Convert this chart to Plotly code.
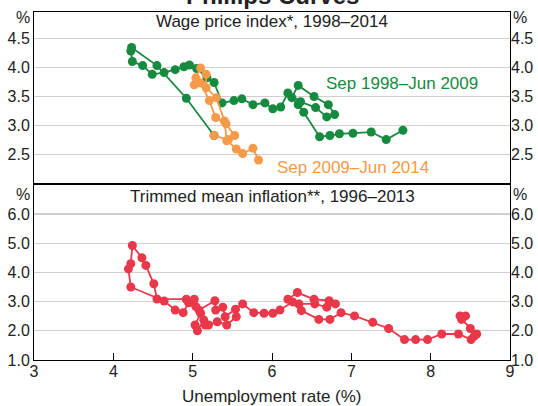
import plotly.graph_objects as go

# ---- Data ----
wpi_early_u = [7.65, 7.44, 7.25, 7.02, 6.85, 6.73, 6.60, 6.40, 6.33, 6.25, 6.33, 6.53, 6.71, 6.79,
               6.69, 6.55, 6.36, 6.20, 6.11, 6.01, 5.91, 5.76, 5.62, 5.52, 5.37, 5.27, 5.18, 5.05,
               4.96, 4.89, 4.78, 4.64, 4.49, 4.37, 4.24, 4.22, 4.23, 4.55, 4.92, 5.27]
wpi_early_w = [2.92, 2.76, 2.89, 2.87, 2.86, 2.83, 2.81, 3.23, 3.36, 3.48, 3.69, 3.50, 3.36, 3.19,
               3.15, 3.31, 3.41, 3.56, 3.32, 3.29, 3.39, 3.36, 3.46, 3.43, 3.39, 3.74, 3.82, 3.98,
               4.04, 4.01, 3.96, 3.91, 3.88, 4.03, 4.10, 4.28, 4.34, 4.03, 3.47, 2.83]

wpi_late_u = [5.27, 5.45, 5.53, 5.42, 5.29, 5.21, 5.10, 5.02, 5.04, 5.10, 5.17, 5.17, 5.30,
              5.40, 5.43, 5.55, 5.63, 5.76, 5.83]
wpi_late_w = [2.83, 2.76, 2.83, 3.03, 3.14, 3.43, 3.73, 3.70, 3.82, 3.99, 3.88, 3.65, 3.48,
              3.08, 2.74, 2.60, 2.52, 2.61, 2.41]

tm_u = [8.37, 8.44, 8.39, 8.50, 8.58, 8.55, 8.51, 8.35, 8.14, 7.96, 7.81, 7.67, 7.47, 7.27,
        7.04, 6.87, 6.73, 6.59, 6.37, 6.20, 6.32, 6.53, 6.72, 6.80, 6.69, 6.54, 6.34, 6.26,
        6.10, 6.01, 5.90, 5.77, 5.63, 5.54, 5.41, 5.38, 5.29, 5.28, 5.08, 5.04, 4.95, 4.88,
        4.78, 4.64, 4.22, 4.19, 4.22, 4.24, 4.36, 4.41, 4.51, 4.55, 4.92, 5.02, 5.10, 5.03,
        5.06, 5.14, 5.16, 5.20, 5.31, 5.43, 5.55]
tm_p = [2.51, 2.51, 2.39, 2.08, 1.89, 1.82, 1.70, 1.89, 1.89, 1.70, 1.70, 1.70, 2.08, 2.29,
        2.51, 2.62, 2.39, 2.39, 2.69, 3.08, 3.31, 3.08, 3.03, 2.92, 2.81, 2.92, 2.92, 2.99,
        2.71, 2.60, 2.60, 2.62, 2.92, 2.74, 2.48, 2.81, 2.71, 3.03, 2.71, 2.83, 2.96, 2.62,
        2.71, 3.02, 3.50, 4.12, 4.30, 4.92, 4.50, 4.24, 3.61, 3.09, 3.08, 3.08, 2.60, 2.20,
        2.00, 2.37, 2.20, 2.20, 2.31, 2.20, 2.48]

x_ticks = [3, 4, 5, 6, 7, 8, 9]
top_ticks = [2.5, 3.0, 3.5, 4.0, 4.5]
bot_ticks = [1.0, 2.0, 3.0, 4.0, 5.0, 6.0]

GREEN = "#168A3E"
ORANGE = "#F59A48"
RED = "#E8384A"
GRID = "#CFCFCF"
FONT = "Liberation Sans, Arial, sans-serif"
TXT = 17
TICK = 16

fig = go.Figure()
fig.add_trace(go.Scatter(x=wpi_early_u, y=wpi_early_w, mode="lines+markers",
                         line=dict(color=GREEN, width=1.8), marker=dict(color=GREEN, size=9),
                         xaxis="x2", yaxis="y", showlegend=False))
fig.add_trace(go.Scatter(x=wpi_late_u, y=wpi_late_w, mode="lines+markers",
                         line=dict(color=ORANGE, width=1.8), marker=dict(color=ORANGE, size=9),
                         xaxis="x2", yaxis="y", showlegend=False))
fig.add_trace(go.Scatter(x=tm_u, y=tm_p, mode="lines+markers",
                         line=dict(color=RED, width=1.8), marker=dict(color=RED, size=9),
                         xaxis="x", yaxis="y2", showlegend=False))
# invisible traces to activate right-hand axes
fig.add_trace(go.Scatter(x=[None], y=[None], xaxis="x2", yaxis="y3", showlegend=False, hoverinfo="skip"))
fig.add_trace(go.Scatter(x=[None], y=[None], xaxis="x", yaxis="y4", showlegend=False, hoverinfo="skip"))

split = 0.506
top_rng = [2.0, 4.95]
bot_rng = [1.0, 7.03]

common_y = dict(showline=True, linecolor="black", linewidth=1, mirror=True,
                gridcolor=GRID, gridwidth=1.3, zeroline=False, ticks="", automargin=False,
                tickfont=dict(size=TICK, color="#222"), tickformat=".1f", fixedrange=True)
right_y = dict(side="right", showgrid=False, zeroline=False, showline=False, tickformat=".1f",
               ticks="", automargin=False,
               tickfont=dict(size=TICK, color="#222"), fixedrange=True)

fig.update_layout(
    width=538, height=406,
    margin=dict(l=34, r=28, t=12, b=46, autoexpand=False),
    showlegend=False,
    paper_bgcolor="white", plot_bgcolor="white",
    font=dict(family=FONT, size=TXT, color="#222"),
    xaxis=dict(domain=[0, 1], anchor="y2", range=[3, 9], tickvals=x_ticks,
               ticks="inside", ticklen=7, tickcolor="black", showline=True,
               linecolor="black", linewidth=1, mirror=True, showgrid=False,
               zeroline=False, automargin=False, ticklabelstandoff=-3,
               tickfont=dict(size=TICK, color="#222"), fixedrange=True),
    xaxis2=dict(domain=[0, 1], anchor="y", matches="x", showticklabels=False,
                showline=True, linecolor="black", linewidth=1, mirror=True,
                showgrid=False, zeroline=False, ticks="", automargin=False),
    yaxis=dict(domain=[split, 1], anchor="x2", range=top_rng, tickvals=top_ticks, **common_y),
    yaxis2=dict(domain=[0, split], anchor="x", range=bot_rng, tickvals=bot_ticks, **common_y),
    yaxis3=dict(overlaying="y", anchor="x2", range=top_rng, tickvals=top_ticks, **right_y),
    yaxis4=dict(overlaying="y2", anchor="x", range=bot_rng, tickvals=bot_ticks, **right_y),
)

ann = []
ann.append(dict(text="<b>Phillips Curves</b>", xref="paper", yref="paper", x=0.5, y=1,
                xanchor="center", yanchor="bottom", yshift=1, showarrow=False,
                font=dict(size=24, color="#222")))
ann.append(dict(text="Wage price index*, 1998–2014", xref="paper", yref="y", x=0.5, y=4.78,
                xanchor="center", yanchor="middle", showarrow=False, font=dict(size=TXT)))
ann.append(dict(text="Trimmed mean inflation**, 1996–2013", xref="paper", yref="y2", x=0.5, y=6.61,
                xanchor="center", yanchor="middle", showarrow=False, font=dict(size=TXT)))
ann.append(dict(text="Sep 1998–Jun 2009", xref="x2", yref="y", x=6.66, y=3.73,
                xanchor="left", yanchor="middle", showarrow=False, font=dict(size=TXT, color=GREEN)))
ann.append(dict(text="Sep 2009–Jun 2014", xref="x2", yref="y", x=6.04, y=2.29,
                xanchor="left", yanchor="middle", showarrow=False, font=dict(size=TXT, color=ORANGE)))
ann.append(dict(text="Unemployment rate (%)", xref="paper", yref="paper", x=0.5, y=0,
                xanchor="center", yanchor="middle", yshift=-36, showarrow=False,
                font=dict(size=TXT)))
for yref, yv in (("y", 4.85), ("y2", 6.68)):
    ann.append(dict(text="%", xref="paper", yref=yref, x=0, y=yv, xanchor="right",
                    yanchor="middle", xshift=-2, showarrow=False, font=dict(size=TICK)))
    ann.append(dict(text="%", xref="paper", yref=yref, x=1, y=yv, xanchor="left",
                    yanchor="middle", xshift=1, showarrow=False, font=dict(size=TICK)))
fig.update_layout(annotations=ann)

fig.write_html("out.html", config={"displayModeBar": False, "staticPlot": True},
               post_script="document.body.style.margin='0';document.body.style.padding='0';")
